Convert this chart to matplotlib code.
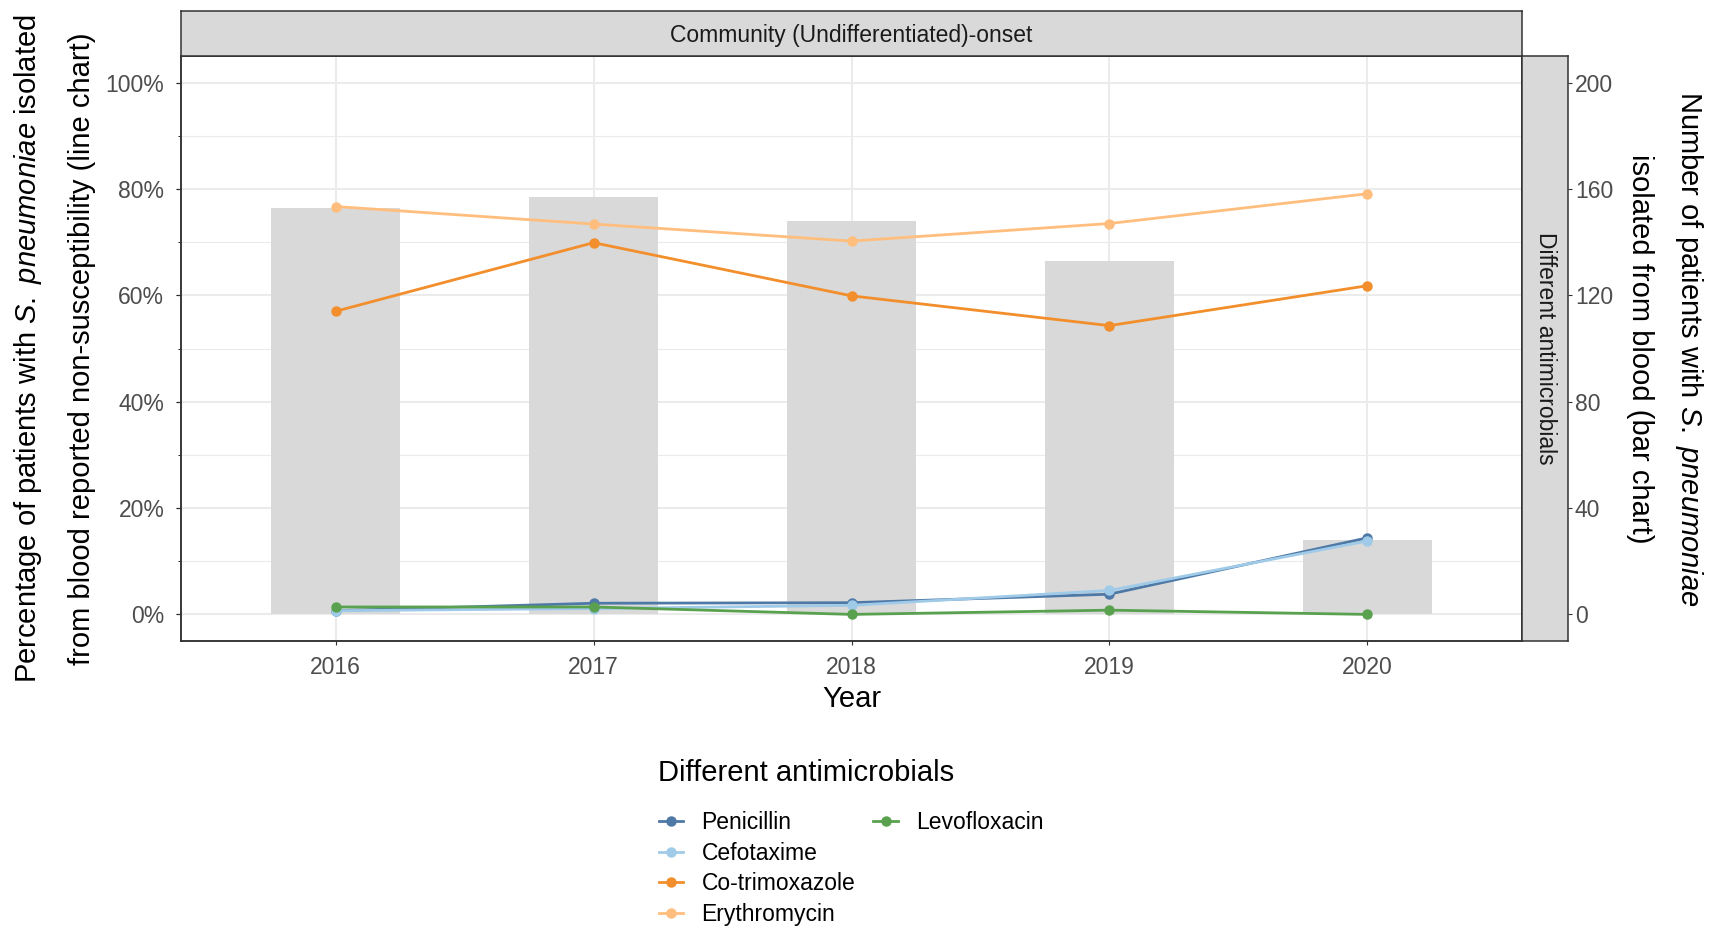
import numpy as np
import matplotlib
matplotlib.use("Agg")
import matplotlib.pyplot as plt
from matplotlib.lines import Line2D
from matplotlib.ticker import MultipleLocator, PercentFormatter

plt.rcParams["font.family"] = ["Liberation Sans", "DejaVu Sans"]
plt.rcParams["mathtext.fontset"] = "custom"
plt.rcParams["mathtext.rm"] = "Liberation Sans"
plt.rcParams["mathtext.it"] = "Liberation Sans:italic"

years = ["2016", "2017", "2018", "2019", "2020"]
patients = [153, 157, 148, 133, 28]  # bars, right axis

antimicrobials = ["Penicillin", "Cefotaxime", "Co-trimoxazole", "Erythromycin", "Levofloxacin"]
penicillin = [0.7, 2.1, 2.2, 3.8, 14.4]
cefotaxime = [0.7, 1.1, 1.7, 4.5, 13.8]
cotrimoxazole = [57.0, 69.9, 59.9, 54.3, 61.8]
erythromycin = [76.7, 73.4, 70.2, 73.5, 79.1]
levofloxacin = [1.4, 1.4, 0.0, 0.8, 0.0]
series = [penicillin, cefotaxime, cotrimoxazole, erythromycin, levofloxacin]
colors = ["#4E79A7", "#A0CBE8", "#F28E2B", "#FFBE7D", "#59A14F"]

W, H = 1719, 926
BORDER = "#333333"
TICK_TEXT = "#4D4D4D"


def box(x0, y0, x1, y1):
    # pixel box (top-left origin) -> figure fraction rect
    return [x0 / W, 1 - y1 / H, (x1 - x0) / W, (y1 - y0) / H]


def frame(a):
    for s in a.spines.values():
        s.set_color(BORDER)
        s.set_linewidth(1.1)


fig = plt.figure(figsize=(W / 100, H / 100), dpi=100)

# bar layer (patient counts) carries the grid
axb = fig.add_axes(box(181, 56, 1522, 641))
x = np.arange(len(years))
axb.bar(x, patients, width=0.5, color="#D9D9D9", zorder=2)
axb.set_xlim(-0.6, len(years) - 0.4)
axb.set_ylim(-10, 210)
axb.yaxis.set_major_locator(MultipleLocator(40))
axb.yaxis.set_minor_locator(MultipleLocator(20))
axb.grid(which="major", color="#EBEBEB", lw=1.5)
axb.grid(which="minor", axis="y", color="#EBEBEB", lw=0.8)
axb.set_axisbelow(True)
axb.tick_params(axis="y", which="both", left=False, labelleft=False)
axb.set_xticks(x, years)
axb.tick_params(axis="x", length=3, width=0.8, color=BORDER, pad=8,
                labelsize=16.5, labelcolor=TICK_TEXT)
axb.set_xlabel("Year", fontsize=21, labelpad=4)
frame(axb)

# line layer (percent non-susceptible)
ax = axb.twinx()
ax.set_ylim(-5, 105)
ax.yaxis.tick_left()
ax.yaxis.set_major_locator(MultipleLocator(20))
ax.yaxis.set_major_formatter(PercentFormatter(decimals=0))
ax.tick_params(axis="y", length=3, width=0.8, color=BORDER, pad=9,
               labelsize=16.5, labelcolor=TICK_TEXT)
for name, vals, c in zip(antimicrobials, series, colors):
    ax.plot(x, vals, color=c, lw=2, marker="o", ms=6.5, label=name)
frame(ax)

# facet strips
top = fig.add_axes(box(181, 11, 1522, 56))
top.set_facecolor("#D9D9D9")
top.set_xticks([])
top.set_yticks([])
frame(top)
top.text(0.5, 0.45, "Community (Undifferentiated)-onset", transform=top.transAxes,
         ha="center", va="center", fontsize=16.5, color="#1A1A1A")

side = fig.add_axes(box(1522, 56, 1568, 641))
side.set_facecolor("#D9D9D9")
side.set_xticks([])
side.set_ylim(-10, 210)
side.yaxis.set_major_locator(MultipleLocator(40))
side.yaxis.tick_right()
side.tick_params(axis="y", length=3, width=0.8, color=BORDER, pad=2,
                 labelsize=16.5, labelcolor=TICK_TEXT)
frame(side)
side.text(0.5, 0.5, "Different antimicrobials", transform=side.transAxes, rotation=-90,
          ha="center", va="center", fontsize=16.5, color="#1A1A1A")

# axis titles
yc = 1 - 348.5 / H
fig.text(28.5 / W, yc, r"Percentage of patients with $\mathit{S.\ pneumoniae}$ isolated",
         rotation=90, ha="center", va="center", fontsize=21)
fig.text(82.5 / W, yc, "from blood reported non-susceptibility (line chart)",
         rotation=90, ha="center", va="center", fontsize=21)
fig.text(1689 / W, yc, r"Number of patients with $\mathit{S.\ pneumoniae}$",
         rotation=-90, ha="center", va="center", fontsize=21)
fig.text(1640 / W, yc, "isolated from blood (bar chart)",
         rotation=-90, ha="center", va="center", fontsize=21)

# legend: four rows, filled column-wise
handles = [Line2D([0], [0], color=c, lw=2, marker="o", ms=6.5) for c in colors]
blank = Line2D([], [], linestyle="none")
fig.text(657.7 / W, 1 - 780.7 / H, "Different antimicrobials", fontsize=21,
         ha="left", va="baseline")
fig.legend(handles + [blank] * 3, antimicrobials + [""] * 3, ncol=2,
           loc="upper left", bbox_to_anchor=(659 / W, 1 - 811 / H),
           frameon=False, fontsize=16.5, handlelength=1.05, handletextpad=0.8,
           columnspacing=0.8, labelspacing=0.33, borderpad=0, borderaxespad=0)

fig.savefig("out.png", dpi=100)
